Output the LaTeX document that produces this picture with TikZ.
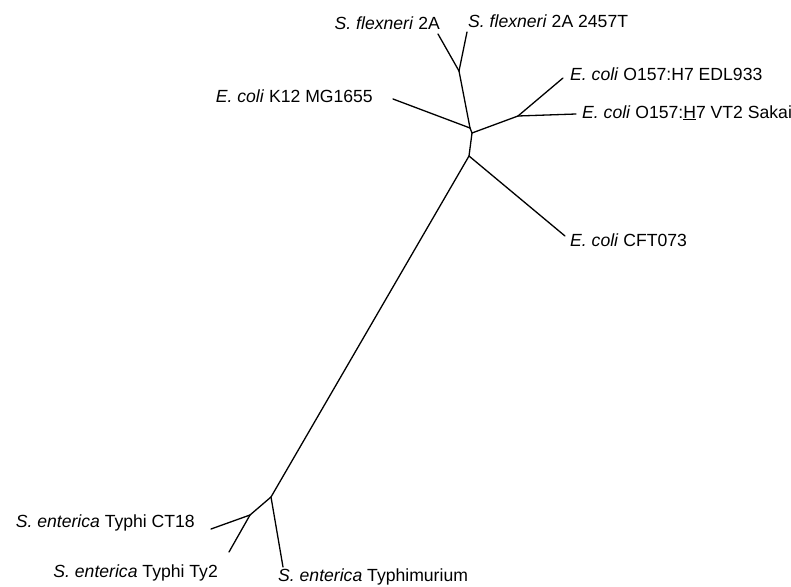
\documentclass[tikz,border=0pt]{standalone}
\usepackage{fontspec}
\setmainfont{Liberation Sans}
\begin{document}
\begin{tikzpicture}[x=1pt,y=-1pt,
  branch/.style={line width=1.3pt,line cap=round,line join=round},
  leftlab/.style={anchor=base east,inner sep=0pt,font=\fontsize{17.6}{20}\selectfont},
  rightlab/.style={anchor=base west,inner sep=0pt,font=\fontsize{17.6}{20}\selectfont}]
\useasboundingbox (0,0) rectangle (791,586);
% internal nodes and tips
\coordinate (tFlA) at (438,34);
\coordinate (tFlB) at (467,32);
\coordinate (nSh) at (459,71);
\coordinate (nA) at (470,128);
\coordinate (tK12) at (393,99);
\coordinate (nB) at (472,133);
\coordinate (nE) at (518,116);
\coordinate (tEDL) at (563,78);
\coordinate (tSak) at (576,114);
\coordinate (nC) at (469,156);
\coordinate (tCFT) at (565,236);
\coordinate (nS) at (271,497);
\coordinate (nTy) at (250,515);
\coordinate (tCT) at (211,529);
\coordinate (tTy2) at (229,552);
\coordinate (tTym) at (283,567);
% branches
\draw[branch] (tFlA) -- (nSh);
\draw[branch] (tFlB) -- (nSh);
\draw[branch] (nSh) -- (nA);
\draw[branch] (tK12) -- (nA);
\draw[branch] (nA) -- (nB);
\draw[branch] (nB) -- (nE);
\draw[branch] (nE) -- (tEDL);
\draw[branch] (nE) -- (tSak);
\draw[branch] (nB) -- (nC);
\draw[branch] (nC) -- (tCFT);
\draw[branch] (nC) -- (nS);
\draw[branch] (nS) -- (nTy);
\draw[branch] (nS) -- (tTym);
\draw[branch] (nTy) -- (tCT);
\draw[branch] (nTy) -- (tTy2);
% labels
\node[leftlab] (lFlA) at (440,30) {\textit{S. flexneri} 2A};
\node[rightlab] (lFlB) at (468,28) {\textit{S. flexneri} 2A 2457T};
\node[leftlab] (lK12) at (373,102) {\textit{E. coli} K12 MG1655};
\node[rightlab] (lEDL) at (570,80) {\textit{E. coli} O157:H7 EDL933};
\node[rightlab] (lSak) at (582,118) {\textit{E. coli} O157:\underline{H}7 VT2 Sakai};
\node[rightlab] (lCFT) at (570,246) {\textit{E. coli} CFT073};
\node[leftlab] (lCT) at (195,527) {\textit{S. enterica} Typhi CT18};
\node[leftlab] (lTy2) at (218,577) {\textit{S. enterica} Typhi Ty2};
\node[rightlab] (lTym) at (278,581) {\textit{S. enterica} Typhimurium};
\end{tikzpicture}
\end{document}
